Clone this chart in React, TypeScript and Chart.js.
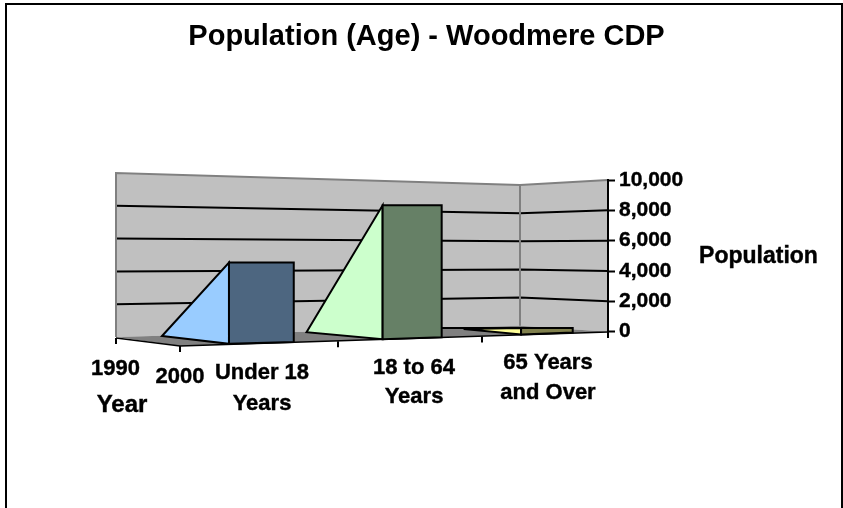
import React, { useEffect, useRef } from "react";
import { Chart, BarController, registerables } from "chart.js";

Chart.register(...registerables);

const categories = [["Under 18", "Years"], ["18 to 64", "Years"], ["65 Years", "and Over"]];
const years = ["1990", "2000"];
const values1990 = [0, 0, 0];
const values2000 = [5100, 8400, 400];
const sideColors = ["#99CCFF", "#CCFFCC", "#FFFF99"];
const frontColors = ["#4D6680", "#668066", "#80804D"];
const chartTitle = "Population (Age) - Woodmere CDP";
const valueTitle = "Population";
const depthTitle = "Year";

const FONT = "'Liberation Sans', Arial, sans-serif";

// Projection of the 3D box onto the canvas (Excel-style perspective)
const frontXKnots = [180, 338, 482, 608];
const frontYKnots = [346, 341.3, 336.6, 332];
const backXKnots = [118, 260, 410, 583];
const backYKnots = [337.2, 333.2, 330, 327];
const BAR_FROM = 0.31;
const BAR_TO = 0.72;
const FRONT_SCALE = 1.05;
const wall = {
  leftX: 116, leftY: 337, leftScale: 1.081,
  cornerX: 520, cornerY: 325.7, cornerScale: 0.927,
  rightX: 608,
};

const lerpKnots = (k: number[], t: number) => {
  const i = Math.max(0, Math.min(k.length - 2, Math.floor(t)));
  return k[i] + (k[i + 1] - k[i]) * (t - i);
};

const poly = (ctx: CanvasRenderingContext2D, pts: number[][]) => {
  ctx.beginPath();
  pts.forEach((p, i) => (i ? ctx.lineTo(p[0], p[1]) : ctx.moveTo(p[0], p[1])));
};

class Bar3DController extends BarController {
  static id = "bar3d";
  static defaults = BarController.defaults;
  static overrides = BarController.overrides;
  draw() {
    const chart = this.chart as any;
    const ctx = chart.ctx as CanvasRenderingContext2D;
    const y = chart.scales.y;
    const ds = this.getDataset() as any;
    if (this.index !== 1) return;
    const back = chart.data.datasets[0].data as number[];
    const h = (v: number) => (y.getPixelForValue(0) - y.getPixelForValue(v)) * FRONT_SCALE;
    ctx.save();
    ctx.lineJoin = "miter";
    ctx.strokeStyle = "#000";
    ctx.lineWidth = 2;
    (ds.data as number[]).forEach((v, i) => {
      const t0 = i + BAR_FROM;
      const t1 = i + BAR_TO;
      const x0 = lerpKnots(frontXKnots, t0);
      const x1 = lerpKnots(frontXKnots, t1);
      const b0 = lerpKnots(frontYKnots, t0) - 0.7;
      const b1 = lerpKnots(frontYKnots, t1) - 0.7;
      const top = b0 - h(v);
      const apex = [lerpKnots(backXKnots, t0), lerpKnots(backYKnots, t0) - h(back[i])];
      poly(ctx, [apex, [x0, top], [x0, b0]]);
      ctx.closePath();
      ctx.fillStyle = sideColors[i];
      ctx.fill();
      ctx.stroke();
      poly(ctx, [[x0, top], [x1, top], [x1, b1], [x0, b0]]);
      ctx.closePath();
      ctx.fillStyle = frontColors[i];
      ctx.fill();
      ctx.stroke();
    });
    ctx.restore();
  }
}
Chart.register(Bar3DController);

const boxPlugin = {
  id: "box3d",
  beforeDraw(chart: any) {
    const ctx = chart.ctx as CanvasRenderingContext2D;
    const y = chart.scales.y;
    const y0 = y.getPixelForValue(0);
    const L = (v: number) => wall.leftY - (y0 - y.getPixelForValue(v)) * wall.leftScale;
    const C = (v: number) => wall.cornerY - (y0 - y.getPixelForValue(v)) * wall.cornerScale;
    const R = (v: number) => y.getPixelForValue(v);
    const max = y.max;
    ctx.save();
    ctx.fillStyle = "#fff";
    ctx.fillRect(0, 0, chart.width, chart.height);
    ctx.strokeStyle = "#000";
    ctx.lineWidth = 2;
    ctx.strokeRect(6, 4, 836, 520);

    // walls
    poly(ctx, [[wall.leftX, L(max)], [wall.cornerX, C(max)], [wall.rightX, R(max)], [wall.rightX, R(0)], [wall.cornerX, C(0)], [wall.leftX, L(0)]]);
    ctx.closePath();
    ctx.fillStyle = "#C0C0C0";
    ctx.fill();

    // floor
    poly(ctx, [[wall.leftX, L(0)], [wall.cornerX, C(0)], [wall.rightX, R(0)], [frontXKnots[0], frontYKnots[0]]]);
    ctx.closePath();
    ctx.fillStyle = "#808080";
    ctx.fill();

    // gridlines
    ctx.strokeStyle = "#000";
    ctx.lineWidth = 2;
    y.ticks.forEach((tk: any) => {
      if (tk.value === 0 || tk.value === max) return;
      poly(ctx, [[wall.leftX, L(tk.value)], [wall.cornerX, C(tk.value)], [wall.rightX, R(tk.value)]]);
      ctx.stroke();
    });

    // wall edges
    ctx.strokeStyle = "#808080";
    poly(ctx, [[wall.leftX, L(0)], [wall.leftX, L(max)], [wall.cornerX, C(max)], [wall.rightX, R(max)]]);
    ctx.stroke();
    poly(ctx, [[wall.cornerX, C(max)], [wall.cornerX, C(0)]]);
    ctx.stroke();

    // floor edges and tick marks
    ctx.strokeStyle = "#000";
    ctx.lineWidth = 1.5;
    poly(ctx, [[wall.leftX, L(0) + 1], [frontXKnots[0], frontYKnots[0]], [frontXKnots[3], frontYKnots[3]]]);
    ctx.stroke();
    ctx.lineWidth = 2;
    [[wall.leftX, L(0) + 1], ...frontXKnots.map((x, i) => [x, frontYKnots[i]])].forEach((p) => {
      poly(ctx, [p, [p[0], p[1] + 6]]);
      ctx.stroke();
    });
    // back edge above the low last bar
    poly(ctx, [[442, 328], [572, 328]]);
    ctx.stroke();
    ctx.restore();
  },
  afterDraw(chart: any) {
    const ctx = chart.ctx as CanvasRenderingContext2D;
    ctx.save();
    ctx.fillStyle = "#000";
    ctx.strokeStyle = "#000";
    ctx.lineWidth = 0.4;
    ctx.textAlign = "center";
    ctx.textBaseline = "middle";
    const put = (s: string, x: number, yy: number, size: number) => {
      ctx.font = `bold ${size}px ${FONT}`;
      ctx.fillText(s, x, yy);
      ctx.strokeText(s, x, yy);
    };
    const catOffsets = [[373, 404], [368, 397], [363, 393]];
    const catX = [262, 414, 548];
    categories.forEach((lines, i) => {
      lines.forEach((s, j) => put(s, catX[i], catOffsets[i][j], 22));
    });
    put(years[0], 115.5, 369, 22);
    put(years[1], 180, 377, 22);
    put(depthTitle, 122, 405, 24);
    put(valueTitle, 758.5, 257, 23);
    ctx.restore();
  },
};

export default function App() {
  const ref = useRef<HTMLCanvasElement>(null);
  useEffect(() => {
    const chart = new Chart(ref.current!, {
      type: "bar3d" as any,
      data: {
        labels: categories.map((c) => c.join(" ")),
        datasets: [
          { label: years[0], data: values1990, backgroundColor: sideColors, clip: false },
          { label: years[1], data: values2000, backgroundColor: frontColors, clip: false },
        ],
      },
      options: {
        responsive: false,
        animation: false,
        layout: { padding: { left: 10, top: 20, bottom: 176.3, right: 0 } },
        plugins: {
          legend: { display: false },
          tooltip: { enabled: false },
          title: {
            display: true,
            text: chartTitle,
            color: "#000",
            font: { family: FONT, size: 29, weight: "bold", lineHeight: 1.2 },
            padding: { top: 0, bottom: 125.2 },
          },
        },
        scales: {
          x: { display: false },
          y: {
            position: "right",
            min: 0,
            max: 10000,
            afterFit(scale: any) { scale.width = 235; },
            ticks: {
              stepSize: 2000,
              color: "#000",
              padding: 4,
              textStrokeColor: "#000",
              textStrokeWidth: 0.4,
              font: { family: FONT, size: 21, weight: "bold" },
              callback: (v: any) => Number(v).toLocaleString("en-US"),
            },
            border: { display: true, color: "#000", width: 2 },
            grid: { drawOnChartArea: false, drawTicks: true, tickLength: 7, tickColor: "#000", tickWidth: 2 },
          },
        },
      } as any,
      plugins: [boxPlugin],
    });
    return () => chart.destroy();
  }, []);
  return <canvas ref={ref} width={843} height={508} style={{ position: "absolute", left: 0, top: 0, display: "block" }} />;
}
